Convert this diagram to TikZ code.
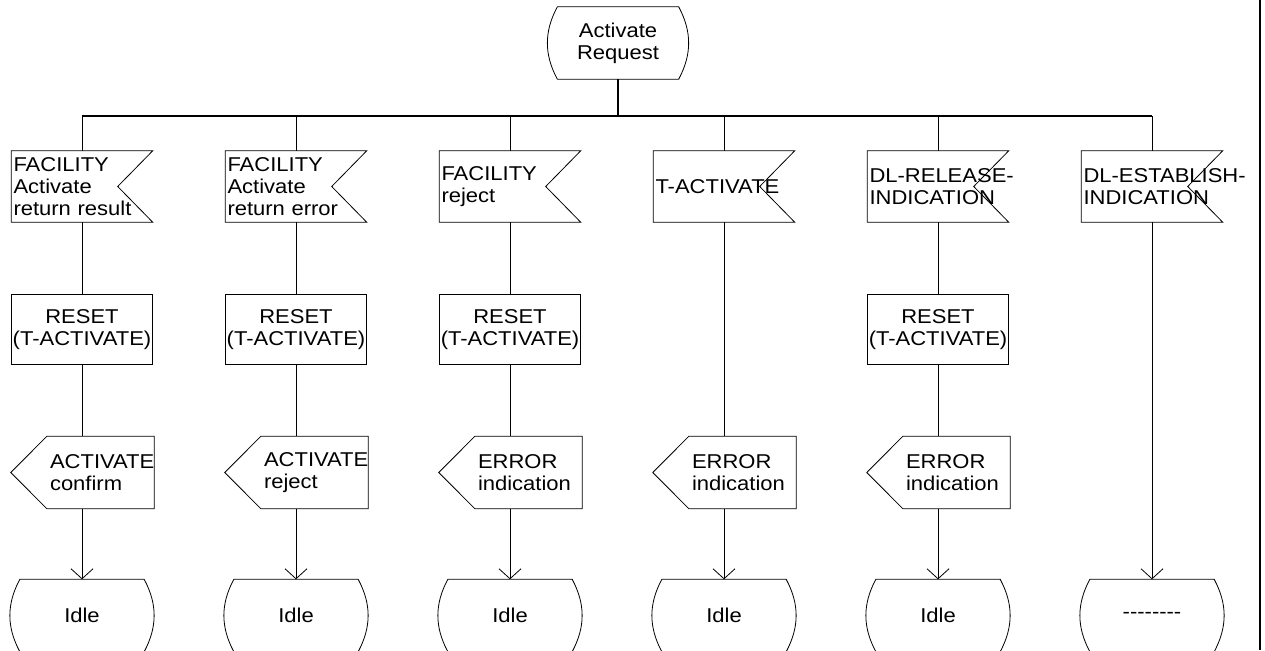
\documentclass[tikz,border=0pt]{standalone}
\usepackage{fontspec}
\setmainfont{Liberation Sans}[FakeStretch=1.1]
\usetikzlibrary{calc,arrows.meta}
\exhyphenpenalty=10000
\hyphenpenalty=10000

\begin{document}
\begin{tikzpicture}[>={Straight Barb[length=10pt,width=22pt]}, x=1pt, y=1pt,
  node distance=143pt, font=\fontsize{20}{22}\selectfont]

  \tikzstyle{sym} = [black, line width=0.8pt];
  \tikzstyle{flow} = [black, line width=0.8pt];
  \tikzstyle{busline} = [black, line width=1.6pt];
  \tikzstyle{startsym} = [minimum width=140pt, minimum height=72pt, inner sep=0pt, align=center];
  \tikzstyle{statesym} = [minimum width=143pt, minimum height=72pt, inner sep=0pt, align=center];
  \tikzstyle{inputsym} = [minimum width=141pt, minimum height=71pt, inner xsep=2pt, inner ysep=0pt, text width=137pt, align=left];
  \tikzstyle{tasksym} = [sym, draw, minimum width=141pt, minimum height=70pt, inner sep=0pt, align=center];
  \tikzstyle{outputsym} = [minimum width=107pt, minimum height=72pt, inner xsep=3pt, inner ysep=0pt, text width=101pt, align=left];

  \path[use as bounding box, clip] (0,0) rectangle (1265,-650);

  \node[startsym, name=start] at (618,-43) {Activate\\Request};

  % signal inputs, one per branch
  \node[inputsym, name=in1] at (82,-186.5) {FACILITY\\Activate\\return result};
  \node[inputsym, name=in2, right of=in1, xshift=71pt] {FACILITY\\Activate\\return error};
  \node[inputsym, name=in3, right of=in2, xshift=71pt] {FACILITY\\reject};
  \node[inputsym, name=in4, right of=in3, xshift=71pt] {T-ACTIVATE};
  \node[inputsym, name=in5, right of=in4, xshift=71pt] {DL-RELEASE-\\INDICATION};
  \node[inputsym, name=in6, right of=in5, xshift=71pt] {DL-ESTABLISH-\\INDICATION};

  % timer resets
  \node[tasksym, name=task1, below of=in1] {RESET\\(T-ACTIVATE)};
  \node[tasksym, name=task2, below of=in2] {RESET\\(T-ACTIVATE)};
  \node[tasksym, name=task3, below of=in3] {RESET\\(T-ACTIVATE)};
  \node[tasksym, name=task5, below of=in5] {RESET\\(T-ACTIVATE)};

  % signal outputs
  \node[outputsym, name=out1, below of=task1, xshift=18.5pt] {ACTIVATE\\confirm};
  \node[outputsym, name=out2, below of=task2, xshift=18.5pt] {ACTIVATE\\reject};
  \node[outputsym, name=out3, below of=task3, xshift=18.5pt] {ERROR\\indication};
  \node[outputsym, name=out4, below of=in4, yshift=-143pt, xshift=18.5pt] {ERROR\\indication};
  \node[outputsym, name=out5, below of=task5, xshift=18.5pt] {ERROR\\indication};

  % next states
  \node[statesym, name=idle1, below of=out1, xshift=-18.5pt] {Idle};
  \node[statesym, name=idle2, below of=out2, xshift=-18.5pt] {Idle};
  \node[statesym, name=idle3, below of=out3, xshift=-18.5pt] {Idle};
  \node[statesym, name=idle4, below of=out4, xshift=-18.5pt] {Idle};
  \node[statesym, name=idle5, below of=out5, xshift=-18.5pt] {Idle};
  \node[statesym, name=idle6, below of=in6, yshift=-286pt] {{-}{-}{-}{-}{-}{-}{-}{-}};

  % outlines of the symbols
  \foreach \n in {in1,in2,in3,in4,in5,in6}
    \draw[sym] (\n.north west) -- (\n.north east) -- ($(\n.east)+(-35,0)$)
      -- (\n.south east) -- (\n.south west) -- cycle;
  \foreach \n in {out1,out2,out3,out4,out5}
    \draw[sym] (\n.north west) -- (\n.north east) -- (\n.south east)
      -- (\n.south west) -- ($(\n.west)+(-36,0)$) -- cycle;
  \foreach \n in {start,idle1,idle2,idle3,idle4,idle5,idle6}
    \draw[sym] ($(\n.north west)+(9.5,0)$) -- ($(\n.north east)+(-9.5,0)$)
      to[bend left=28] ($(\n.south east)+(-9.5,0)$) -- ($(\n.south west)+(9.5,0)$)
      to[bend left=28] cycle;

  % fan out from the start
  \coordinate (bus) at ($(start.south)+(0,-37)$);
  \draw[busline] (start.south) -- (bus);
  \draw[busline] (bus -| in1.north) -- (bus -| in6.north);
  \draw[flow] (bus -| in1.north) -- (in1.north);
  \draw[flow] (bus -| in2.north) -- (in2.north);
  \draw[flow] (bus -| in3.north) -- (in3.north);
  \draw[flow] (bus -| in4.north) -- (in4.north);
  \draw[flow] (bus -| in5.north) -- (in5.north);
  \draw[flow] (bus -| in6.north) -- (in6.north);

  % branches
  \draw[flow] (in1.south) -- (task1.north);
  \draw[flow] (task1.south) -- (task1.south |- out1.north);
  \draw[flow,->] (idle1.north |- out1.south) -- (idle1.north);

  \draw[flow] (in2.south) -- (task2.north);
  \draw[flow] (task2.south) -- (task2.south |- out2.north);
  \draw[flow,->] (idle2.north |- out2.south) -- (idle2.north);

  \draw[flow] (in3.south) -- (task3.north);
  \draw[flow] (task3.south) -- (task3.south |- out3.north);
  \draw[flow,->] (idle3.north |- out3.south) -- (idle3.north);

  \draw[flow] (in4.south) -- (in4.south |- out4.north);
  \draw[flow,->] (idle4.north |- out4.south) -- (idle4.north);

  \draw[flow] (in5.south) -- (task5.north);
  \draw[flow] (task5.south) -- (task5.south |- out5.north);
  \draw[flow,->] (idle5.north |- out5.south) -- (idle5.north);

  \draw[flow,->] (in6.south) -- (idle6.north);

  % page border on the right
  \coordinate (borderTop) at (1260,0);
  \coordinate (borderBottom) at (1260,-650);
  \draw[busline] (borderTop) -- (borderBottom);

\end{tikzpicture}
\end{document}
